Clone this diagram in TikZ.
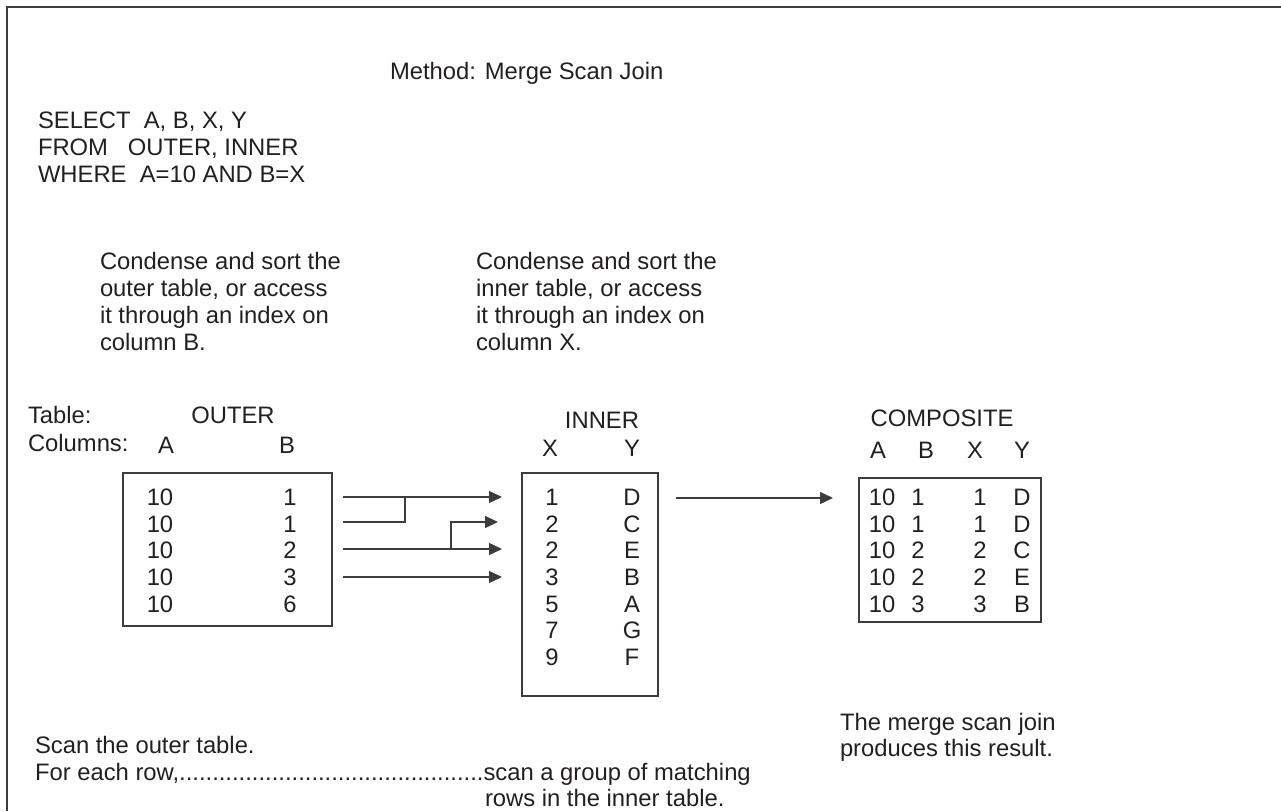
\documentclass[tikz,border=0pt]{standalone}
\usepackage{fontspec}
\setmainfont{Liberation Sans}
\usetikzlibrary{arrows.meta}
\definecolor{ink}{RGB}{35,31,32}
\definecolor{ln}{RGB}{60,60,60}
\tikzset{
 txt/.style={inner sep=0pt, outer sep=0pt, text=ink, font=\fontsize{23.8}{27}\selectfont, anchor=base west},
 cell/.style={inner sep=0pt, outer sep=0pt, text=ink, font=\fontsize{23.8}{27}\selectfont, anchor=base},
 tbox/.style={draw=ln, line width=1.3pt, inner sep=0pt, outer sep=0pt, anchor=north west},
 frameline/.style={draw=ln, line width=1.5pt},
 conn/.style={draw=ln, line width=1.3pt, -{Triangle[length=13pt,width=12pt]}},
 plainline/.style={draw=ln, line width=1.3pt}
}
\begin{document}
\begin{tikzpicture}[x=1pt,y=-1pt]
\useasboundingbox (0,0) rectangle (1281,811);
% frame
\coordinate (fbl) at (7,811);
\coordinate (ftl) at (7,7);
\coordinate (ftr) at (1281,7);
\draw[frameline] (fbl) -- (ftl) -- (ftr);

% title and query
\node[txt] (title) at (390,79) {Method: Merge Scan Join};
\node[txt] (q1) at (38,128) {SELECT\ \ A, B, X, Y};
\node[txt] (q2) at (38,155) {FROM\ \ \ OUTER, INNER};
\node[txt] (q3) at (38,182) {WHERE\ \ A=10 AND B=X};

% condense texts
\node[txt] (cl1) at (100,269) {Condense and sort the};
\node[txt] (cl2) at (100,296) {outer table, or access};
\node[txt] (cl3) at (100,323) {it through an index on};
\node[txt] (cl4) at (100,350) {column B.};
\node[txt] (cr1) at (476,269) {Condense and sort the};
\node[txt] (cr2) at (476,296) {inner table, or access};
\node[txt] (cr3) at (476,323) {it through an index on};
\node[txt] (cr4) at (476,350) {column X.};

% outer table headers
\node[txt] (tab) at (28,423) {Table:};
\node[cell] (outt) at (233,423) {OUTER};
\node[txt] (cols) at (28,451) {Columns:};
\node[cell] (oha) at (166,453) {A};
\node[cell] (ohb) at (287,453) {B};

% inner headers
\node[cell] (innt) at (602,428) {INNER};
\node[cell] (ihx) at (550,456) {X};
\node[cell] (ihy) at (632,456) {Y};

% composite headers
\node[cell] (comt) at (942,426) {COMPOSITE};
\node[cell] (cha) at (878,458) {A};
\node[cell] (chb) at (926,458) {B};
\node[cell] (chx) at (975,458) {X};
\node[cell] (chy) at (1022,458) {Y};

% boxes
\node[tbox, minimum width=209pt, minimum height=153pt] (outer) at (123,473) {};
\node[tbox, minimum width=136pt, minimum height=223pt] (inner) at (522,473) {};
\node[tbox, minimum width=182pt, minimum height=144pt] (comp) at (859,478) {};

% outer rows
\foreach \a/\b [count=\i] in {10/1,10/1,10/2,10/3,10/6} {
  \node[cell] (oa\i) at (160,{505.5+(\i-1)*26.67}) {\a};
  \node[cell] (ob\i) at (290,{505.5+(\i-1)*26.67}) {\b};
}
% inner rows
\foreach \x/\y [count=\i] in {1/D,2/C,2/E,3/B,5/A,7/G,9/F} {
  \node[cell] (ix\i) at (552,{505.5+(\i-1)*26.67}) {\x};
  \node[cell] (iy\i) at (632,{505.5+(\i-1)*26.67}) {\y};
}
% composite rows
\foreach \a/\b/\x/\y [count=\i] in {10/1/1/D,10/1/1/D,10/2/2/C,10/2/2/E,10/3/3/B} {
  \node[cell] (ca\i) at (882,{505.5+(\i-1)*26.67}) {\a};
  \node[cell] (cb\i) at (918,{505.5+(\i-1)*26.67}) {\b};
  \node[cell] (cx\i) at (980,{505.5+(\i-1)*26.67}) {\x};
  \node[cell] (cy\i) at (1022,{505.5+(\i-1)*26.67}) {\y};
}

% connectors
\coordinate (a1s) at (343,497); \coordinate (a1e) at (502,497);
\coordinate (a2s) at (343,522); \coordinate (a2j) at (405,497);
\coordinate (a3s) at (343,549); \coordinate (a3e) at (502,549);
\coordinate (b3j) at (451,549); \coordinate (b3e) at (498,522);
\coordinate (a4s) at (343,577); \coordinate (a4e) at (502,577);
\coordinate (a5s) at (676,498); \coordinate (a5e) at (833,498);
\draw[conn] (a1s) -- (a1e);
\draw[plainline] (a2s) -- (a2s -| a2j) -- (a2j);
\draw[conn] (a3s) -- (a3e);
\draw[conn] (b3j) -- (b3j |- b3e) -- (b3e);
\draw[conn] (a4s) -- (a4e);
\draw[conn] (a5s) -- (a5e);

% bottom texts
\node[txt] (s1) at (35,753) {Scan the outer table.};
\node[txt] (s2) at (35,780) {For each row,..............................................scan a group of matching};
\node[txt] (s3) at (485,806) {rows in the inner table.};
\node[txt] (m1) at (840,730) {The merge scan join};
\node[txt] (m2) at (840,756) {produces this result.};
\end{tikzpicture}
\end{document}
